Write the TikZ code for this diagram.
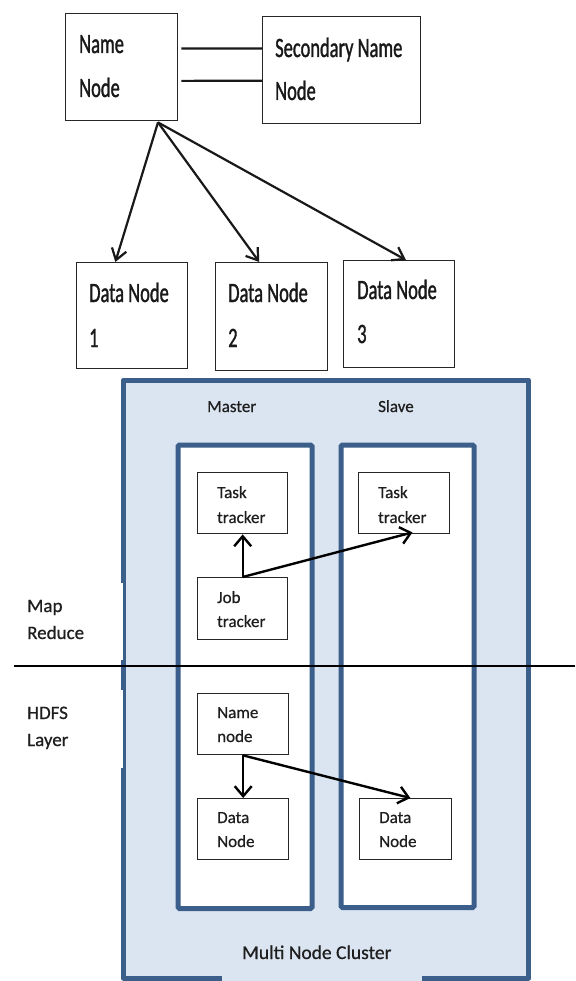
\documentclass[tikz,border=0pt]{standalone}
\usepackage{fontspec}
\setmainfont{Carlito}[FakeBold=0.6]
\newfontfamily\tallfont{Carlito}[FakeStretch=0.66,FakeBold=1.2]
\newfontfamily\labelfont{Carlito}[FakeBold=0.6]
\usetikzlibrary{arrows.meta,calc}
\definecolor{clusterfill}{HTML}{DBE5F1}
\definecolor{clusterline}{HTML}{3B5E8A}
\definecolor{ink}{HTML}{1E1E1E}

\begin{document}
\begin{tikzpicture}[x=1pt,y=-1pt,
  box/.style={draw=black!85, line width=1.4pt, fill=white, inner sep=0pt, anchor=north west},
  panel/.style={draw=clusterline, line width=5pt, fill=white, rounded corners=1.5pt, inner sep=0pt, anchor=north west},
  outer/.style={draw=clusterline, line width=5pt, line join=round},
  outerthin/.style={draw=clusterline, line width=3pt},
  toplabel/.style={anchor=base west, inner sep=0pt, text=black!90, font=\tallfont\fontsize{28}{28}\selectfont},
  inlabel/.style={anchor=base west, inner sep=0pt, text=ink, font=\labelfont\fontsize{17}{17}\selectfont},
  sidelabel/.style={anchor=base west, inner sep=0pt, text=ink, font=\labelfont\fontsize{19}{19}\selectfont},
  link/.style={draw=black!90, line width=2.2pt},
  toparrow/.style={draw=black!90, line width=2.2pt, -{Straight Barb[length=11pt,width=15pt]}},
  lowarrow/.style={draw=black, line width=2.4pt, -{Straight Barb[length=10pt,width=17pt]}},
  divider/.style={draw=black, line width=1.2pt}]

\useasboundingbox (0,0) rectangle (575,981);
\fill[white] (0,0) rectangle (575,981);

% ---------- HDFS overview ----------
\node[box, minimum width=112pt, minimum height=107pt] (NN)  at (65,13)  {};
\node[box, minimum width=158pt, minimum height=107pt] (SNN) at (262,16) {};
\node[box, minimum width=111pt, minimum height=106pt] (DN1) at (76,262) {};
\node[box, minimum width=112pt, minimum height=108pt] (DN2) at (215,262) {};
\node[box, minimum width=111pt, minimum height=107pt] (DN3) at (343,260) {};

\node[toplabel] (nnA) at (79,53) {Name};
\node[toplabel] (nnB) at (79,97) {Node};
\node[toplabel] (snnA) at (275,57) {Secondary Name};
\node[toplabel] (snnB) at (275,100) {Node};
\node[toplabel] (dn1A) at (89,302) {Data Node};
\node[toplabel] (dn1B) at (89,347) {1};
\node[toplabel] (dn2A) at (228,302) {Data Node};
\node[toplabel] (dn2B) at (228,347) {2};
\node[toplabel] (dn3A) at (357,299) {Data Node};
\node[toplabel] (dn3B) at (357,343) {3};

\draw[link] ($(NN.north east)!0.327!(NN.south east)+(3,0)$) -- ($(SNN.north west)!0.30!(SNN.south west)$);
\draw[link] ($(NN.north east)!0.626!(NN.south east)+(3,0)$) -- ($(SNN.north west)!0.598!(SNN.south west)$);

\coordinate (nnfoot) at ($(NN.south west)!0.82!(NN.south east)+(0,1)$);
\draw[toparrow] (nnfoot) -- ($(DN1.north west)!0.35!(DN1.north east)$);
\draw[toparrow] (nnfoot) -- ($(DN2.north west)!0.39!(DN2.north east)$);
\draw[toparrow] (nnfoot) -- ($(DN3.north west)!0.56!(DN3.north east)$);

% ---------- Multi node cluster ----------
\fill[clusterfill] (124,380) rectangle (528,981);
\draw[outer] (123.5,583) -- (123.5,380) -- (528.5,380) -- (528.5,978) -- (422,978);
\draw[outer] (222,978) -- (123.5,978) -- (123.5,768);
\draw[outer] (123.5,660) -- (123.5,690);
\draw[outerthin] (124.5,583) -- (124.5,660);
\draw[outerthin] (124.5,690) -- (124.5,768);

\node[panel, minimum width=134pt, minimum height=463.5pt] (master) at (175.5,442.5) {};
\node[panel, minimum width=133pt, minimum height=462.5pt] (slave)  at (338.5,442.5) {};

\node[inlabel] (masterlbl) at (207,412) {Master};
\node[inlabel] (slavelbl)  at (378,412) {Slave};

\node[box, minimum width=90pt, minimum height=61pt] (TTm) at (197,472) {};
\node[box, minimum width=90pt, minimum height=62pt] (JT)  at (197,577) {};
\node[box, minimum width=91pt, minimum height=61pt] (TTs) at (358,472) {};
\node[box, minimum width=91pt, minimum height=61pt] (NNl) at (197,693) {};
\node[box, minimum width=91pt, minimum height=61pt] (DNm) at (197,798) {};
\node[box, minimum width=92pt, minimum height=61pt] (DNs) at (359,798) {};

\node[inlabel] (ttmA) at (217,498) {Task};
\node[inlabel] (ttmB) at (217,523) {tracker};
\node[inlabel] (ttsA) at (378,498) {Task};
\node[inlabel] (ttsB) at (378,523) {tracker};
\node[inlabel] (jtA)  at (217,603) {Job};
\node[inlabel] (jtB)  at (217,627) {tracker};
\node[inlabel] (nnlA) at (217,718) {Name};
\node[inlabel] (nnlB) at (217,742) {node};
\node[inlabel] (dnmA) at (217,823) {Data};
\node[inlabel] (dnmB) at (217,847) {Node};
\node[inlabel] (dnsA) at (379,823) {Data};
\node[inlabel] (dnsB) at (379,847) {Node};

\draw[lowarrow] (JT.north) -- (TTm.south);
\draw[lowarrow] (JT.north) -- ($(TTs.south west)!0.59!(TTs.south east)+(0,-2)$);
\draw[lowarrow] (NNl.south) -- (DNm.north);
\draw[lowarrow] (NNl.south) -- ($(DNs.north west)!0.55!(DNs.north east)$);

\node[sidelabel] (mapA) at (27,612) {Map};
\node[sidelabel] (mapB) at (27,639) {Reduce};
\node[sidelabel] (hdfsA) at (27,719) {HDFS};
\node[sidelabel] (hdfsB) at (27,746) {Layer};

\node[sidelabel, font=\labelfont\fontsize{19.5}{19.5}\selectfont] (cluster) at (242,959) {Multi Node Cluster};

% layer separator
\coordinate (sepL) at (14,666);
\coordinate (sepR) at (575,666);
\draw[divider] (sepL) -- (sepR);
\end{tikzpicture}
\end{document}
